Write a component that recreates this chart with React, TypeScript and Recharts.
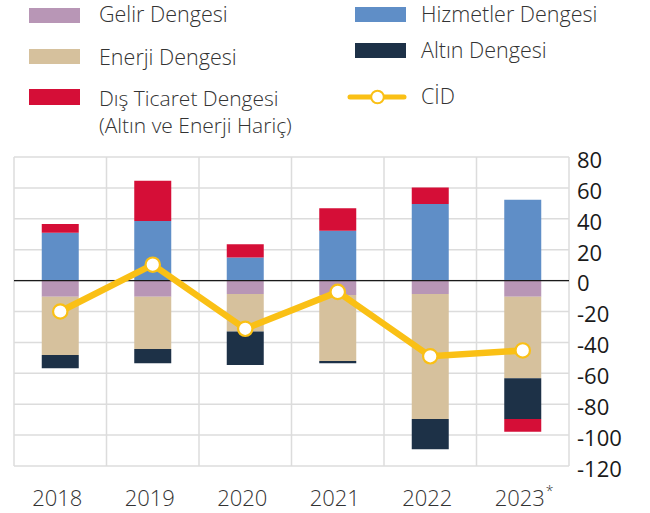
import React from "react";
import {
  ComposedChart,
  Bar,
  Line,
  XAxis,
  YAxis,
  CartesianGrid,
  ReferenceLine,
} from "recharts";

const years = ["2018", "2019", "2020", "2021", "2022", "2023*"];
const hizmetler = [31, 38.6, 14.9, 32.2, 49.6, 52.4];
const disTicaret = [5.7, 26.1, 8.6, 14.7, 10.6, -8.4];
const gelir = [-10.4, -10.4, -8.6, -9.3, -8.6, -10.5];
const enerji = [-37.7, -33.8, -24.4, -42.7, -80.9, -52.7];
const altin = [-8.6, -9.3, -21.6, -1.5, -19.6, -26.3];
const cid = [-20, 10.3, -31.2, -7.3, -49, -45.2];
const yTicks = [80, 60, 40, 20, 0, -20, -40, -60, -80, -100, -120];

const C_GELIR = "#B896B6";
const C_HIZ = "#5F8EC7";
const C_ENERJI = "#D6C19D";
const C_ALTIN = "#1D3147";
const C_DIS = "#D50E37";
const C_CID = "#FAC015";
const FONT = "'Open Sans', 'Noto Sans', sans-serif";

const data = years.map((y, i) => ({
  year: y,
  hizmetler: hizmetler[i],
  gelir: gelir[i],
  enerji: enerji[i],
  altin: altin[i],
  disTicaret: disTicaret[i],
  cid: cid[i],
}));

const XTick = (props: any) => {
  const { x, y, payload } = props;
  const label: string = String(payload.value);
  const star = label.endsWith("*");
  const main = star ? label.slice(0, -1) : label;
  return (
    <g>
      <text
        x={x - 3}
        y={y + 40}
        textAnchor="middle"
        fontFamily={FONT}
        fontWeight={300}
        fontSize={22}
        fill="#333"
      >
        {main}
      </text>
      {star && (
        <text
          x={x + 23}
          y={y + 30}
          textAnchor="start"
          fontFamily={FONT}
          fontWeight={300}
          fontSize={14}
          fill="#333"
        >
          *
        </text>
      )}
    </g>
  );
};

const YTick = (props: any) => {
  const { x, y, payload } = props;
  return (
    <text
      x={x}
      y={y + 3}
      dy="0.355em"
      textAnchor="start"
      fontFamily={FONT}
      fontSize={22}
      fill="#1a1a1a"
    >
      {payload.value}
    </text>
  );
};

const CidDot = (props: any) => {
  const { cx, cy } = props;
  if (cx == null || cy == null) return null;
  return <circle cx={cx} cy={cy} r={7.2} fill="#fff" stroke={C_CID} strokeWidth={2.2} />;
};

const legendLeft = [
  { label: ["Gelir Dengesi"], color: C_GELIR, sy: 8, sh: 15, ty: [22], fs: 21.5 },
  { label: ["Enerji Dengesi"], color: C_ENERJI, sy: 49, sh: 15, ty: [65], fs: 21.5 },
  {
    label: ["Dış Ticaret Dengesi", "(Altın ve Enerji Hariç)"],
    color: C_DIS,
    sy: 89,
    sh: 16,
    ty: [106, 133],
    fs: 21,
  },
];
const legendRight = [
  { label: ["Hizmetler Dengesi"], color: C_HIZ, sy: 7, sh: 15, ty: 22 },
  { label: ["Altın Dengesi"], color: C_ALTIN, sy: 43, sh: 15, ty: 58 },
];

const LFS = 21.5;

const Legend = () => (
  <svg
    width={650}
    height={140}
    style={{ position: "absolute", left: 0, top: 0, zIndex: 2 }}
  >
    {legendLeft.map((l, i) => (
      <g key={"l" + i}>
        <rect x={29} y={l.sy} width={51} height={l.sh} fill={l.color} />
        {l.label.map((t, j) => (
          <text
            key={j}
            x={99}
            y={l.ty[j]}
            fontFamily={FONT}
            fontWeight={300}
            fontSize={l.fs}
            fill="#333"
          >
            {t}
          </text>
        ))}
      </g>
    ))}
    {legendRight.map((l, i) => (
      <g key={"r" + i}>
        <rect x={355} y={l.sy} width={51} height={l.sh} fill={l.color} />
        <text
          x={421}
          y={l.ty}
          fontFamily={FONT}
          fontWeight={300}
          fontSize={LFS}
          fill="#333"
        >
          {l.label[0]}
        </text>
      </g>
    ))}
    <line x1={350} x2={404} y1={97} y2={97} stroke={C_CID} strokeWidth={5} strokeLinecap="round" />
    <circle cx={377.5} cy={97} r={6.3} fill="#fff" stroke={C_CID} strokeWidth={2} />
    <text x={421} y={104} fontFamily={FONT} fontWeight={300} fontSize={LFS} fill="#333">
      CİD
    </text>
  </svg>
);

const verticalGen = (props: any) => {
  const o = props.offset;
  const pts: number[] = [];
  for (let i = 0; i <= years.length; i++) pts.push(o.left + (i * o.width) / years.length);
  return pts;
};

export default function App() {
  return (
    <div style={{ position: "absolute", left: 0, top: 0, width: 650, height: 513, background: "#fff" }}>
      <Legend />
      <div style={{ position: "absolute", left: 0, top: 0 }}>
        <ComposedChart
          width={650}
          height={513}
          data={data}
          stackOffset="sign"
          barCategoryGap="30%"
          margin={{ top: 157, right: 0, bottom: 0, left: 14 }}
        >
          <CartesianGrid
            stroke="#dcdcdc"
            strokeWidth={1.5}
            verticalCoordinatesGenerator={verticalGen}
          />
          <XAxis
            dataKey="year"
            height={47}
            axisLine={false}
            tickLine={false}
            tickSize={0}
            tickMargin={0}
            interval={0}
            tick={<XTick />}
          />
          <YAxis
            orientation="right"
            width={81}
            domain={[-120, 80]}
            ticks={yTicks}
            axisLine={false}
            tickLine={false}
            tickSize={0}
            tickMargin={8}
            interval={0}
            tick={<YTick />}
          />
          <Bar dataKey="hizmetler" stackId="a" fill={C_HIZ} isAnimationActive={false} />
          <Bar dataKey="gelir" stackId="a" fill={C_GELIR} isAnimationActive={false} />
          <Bar dataKey="enerji" stackId="a" fill={C_ENERJI} isAnimationActive={false} />
          <Bar dataKey="altin" stackId="a" fill={C_ALTIN} isAnimationActive={false} />
          <Bar dataKey="disTicaret" stackId="a" fill={C_DIS} isAnimationActive={false} />
          <ReferenceLine y={0} stroke="#1a1a1a" strokeWidth={1.2} />
          <Line
            dataKey="cid"
            stroke={C_CID}
            strokeWidth={6.5}
            dot={<CidDot />}
            activeDot={false}
            isAnimationActive={false}
          />
        </ComposedChart>
      </div>
    </div>
  );
}
